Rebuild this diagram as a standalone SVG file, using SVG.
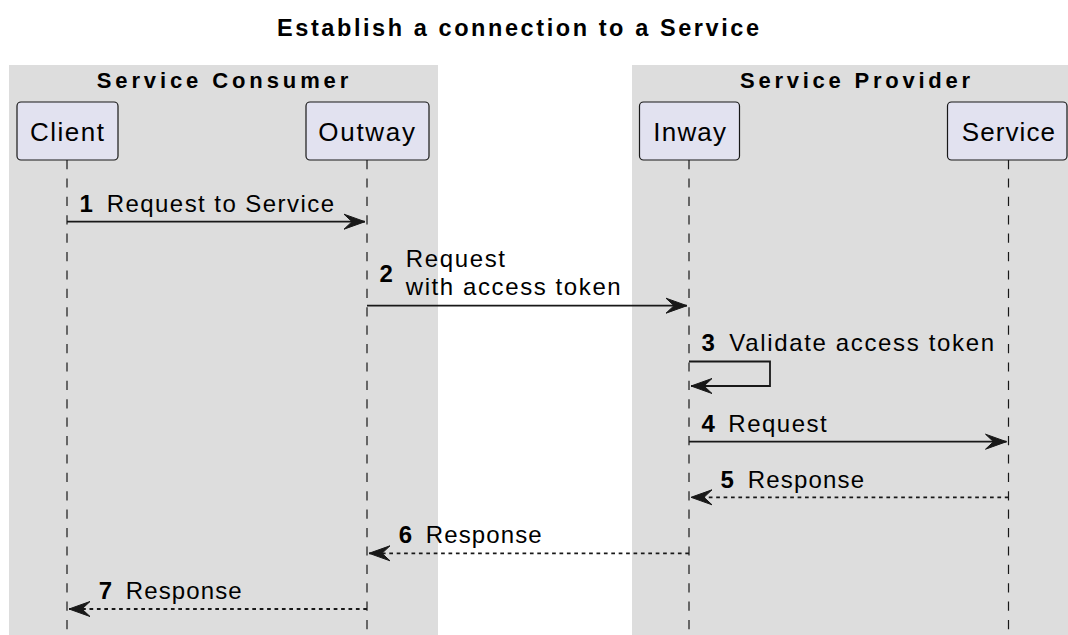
<svg xmlns="http://www.w3.org/2000/svg" width="1068" height="635" viewBox="0 0 1068 635">
<style>
.grp{fill:#DDDDDD;stroke:none}
.part{fill:#E2E2F0;stroke:#181818;stroke-width:1.2}
.life{stroke:#181818;stroke-width:1.2;stroke-dasharray:9.2 9.2;fill:none}
.msg{stroke:#181818;stroke-width:1.8;fill:none}
.dot{stroke:#181818;stroke-width:1.8;fill:none;stroke-dasharray:3.7 3.7}
text{font-family:"Liberation Sans",Arial,sans-serif;fill:#000000}
.title{font-size:23.5px;font-weight:bold}
.gl{font-size:22px;font-weight:bold}
.pl{font-size:26px}
.ml{font-size:24px}
.num{font-size:24px;font-weight:bold}
</style>
<defs>
<marker id="ah" markerUnits="userSpaceOnUse" viewBox="-22 -10 24 20" refX="0" refY="0" markerWidth="24" markerHeight="20" orient="auto" overflow="visible">
<path d="M0,0 L-21,-7.5 L-13,0 L-21,7.5 Z" fill="#181818" stroke="#181818" stroke-width="1" stroke-linejoin="miter"/>
</marker>
</defs>
<rect width="1068" height="635" fill="#FFFFFF"/>
<text class="title" x="277" y="36" textLength="482" lengthAdjust="spacing">Establish a connection to a Service</text>
<g id="box-consumer">
<rect class="grp" x="9" y="65" width="429" height="575"/>
<text class="gl" x="96.7" y="88.3" textLength="251.6" lengthAdjust="spacing">Service Consumer</text>
</g>
<g id="box-provider">
<rect class="grp" x="632" y="65" width="446" height="575"/>
<text class="gl" x="740" y="88.3" textLength="230" lengthAdjust="spacing">Service Provider</text>
</g>
<g id="lifelines">
<line class="life" x1="67" y1="160" x2="67" y2="640"/>
<line class="life" x1="367" y1="160" x2="367" y2="640"/>
<line class="life" x1="689" y1="160" x2="689" y2="640"/>
<line class="life" x1="1008.5" y1="160" x2="1008.5" y2="640"/>
</g>
<g id="client">
<rect class="part" x="17" y="102" width="101" height="58" rx="4" ry="4"/>
<text class="pl" x="30" y="140.7" textLength="74" lengthAdjust="spacing">Client</text>
</g>
<g id="outway">
<rect class="part" x="306" y="102" width="123" height="58" rx="4" ry="4"/>
<text class="pl" x="318.3" y="140.7" textLength="96.7" lengthAdjust="spacing">Outway</text>
</g>
<g id="inway">
<rect class="part" x="639.5" y="102" width="100" height="58" rx="4" ry="4"/>
<text class="pl" x="653.3" y="140.7" textLength="72.7" lengthAdjust="spacing">Inway</text>
</g>
<g id="service">
<rect class="part" x="947.5" y="102" width="119.5" height="58" rx="4" ry="4"/>
<text class="pl" x="961.7" y="140.7" textLength="93.3" lengthAdjust="spacing">Service</text>
</g>
<g id="connectors">
<line class="msg" x1="67" y1="221.7" x2="365" y2="221.7" marker-end="url(#ah)"/>
<line class="msg" x1="367" y1="305.7" x2="687" y2="305.7" marker-end="url(#ah)"/>
<polyline class="msg" points="689,361.5 770,361.5 770,386 691,386" marker-end="url(#ah)"/>
<line class="msg" x1="689" y1="441.7" x2="1006.5" y2="441.7" marker-end="url(#ah)"/>
<line class="dot" x1="1008.5" y1="497.3" x2="691" y2="497.3" marker-end="url(#ah)"/>
<line class="dot" x1="689" y1="553.3" x2="369" y2="553.3" marker-end="url(#ah)"/>
<line class="dot" x1="367" y1="609" x2="69" y2="609" marker-end="url(#ah)"/>
</g>
<g id="labels">
<text class="num" x="79.5" y="211.7">1</text>
<text class="ml" x="106.7" y="211.7" textLength="227.3" lengthAdjust="spacing">Request to Service</text>
<text class="num" x="379.5" y="281.7">2</text>
<text class="ml" x="405.7" y="266.7" textLength="99.3" lengthAdjust="spacing">Request</text>
<text class="ml" x="405.7" y="295" textLength="215" lengthAdjust="spacing">with access token</text>
<text class="num" x="701.5" y="351">3</text>
<text class="ml" x="729.3" y="351" textLength="264.7" lengthAdjust="spacing">Validate access token</text>
<text class="num" x="701.5" y="432.3">4</text>
<text class="ml" x="728.3" y="432.3" textLength="98.4" lengthAdjust="spacing">Request</text>
<text class="num" x="720.5" y="487.7">5</text>
<text class="ml" x="747.7" y="487.7" textLength="116.3" lengthAdjust="spacing">Response</text>
<text class="num" x="398.8" y="543.3">6</text>
<text class="ml" x="425.7" y="543.3" textLength="116" lengthAdjust="spacing">Response</text>
<text class="num" x="98.8" y="599">7</text>
<text class="ml" x="125.7" y="599" textLength="116" lengthAdjust="spacing">Response</text>
</g>
</svg>
